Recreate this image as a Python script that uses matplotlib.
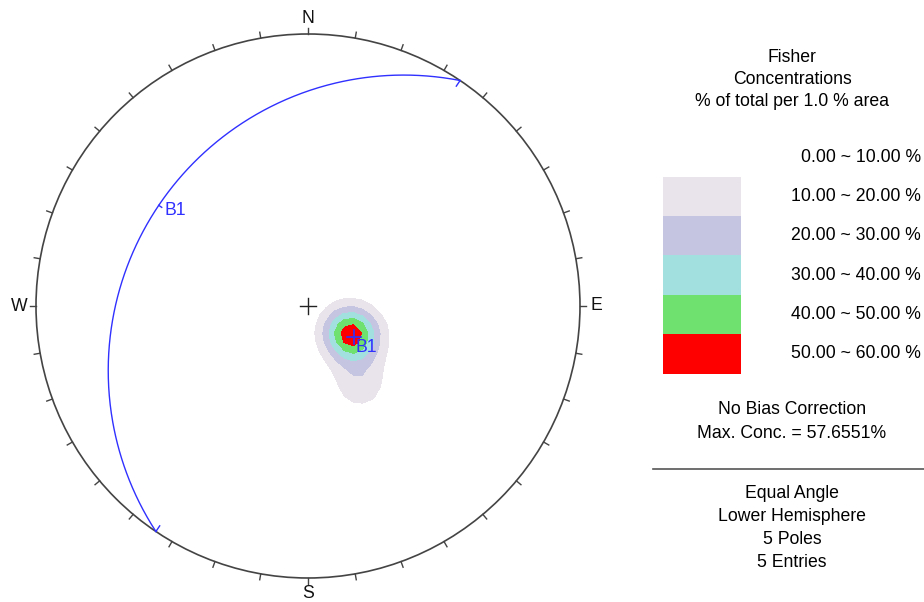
import numpy as np
import matplotlib.pyplot as plt
from matplotlib.patches import Circle, Rectangle

# pole data (trend, plunge in degrees)
pole_trend = [123.7, 121.4, 121.0, 126.9, 146.3]
pole_plunge = [69.0, 72.4, 65.8, 67.1, 52.0]
fisher_k = 57.0
max_conc = 57.6551

# plane B1 (dip direction / dip)
plane_dipdir = 304
plane_dip = 23
plane_name = 'B1'

levels = [10, 20, 30, 40, 50, 60]
level_colors = ['#E9E3EB', '#C5C5E1', '#A2DFDF', '#6EE16E', '#FF0000']
legend_labels = ['0.00 ~ 10.00 %', '10.00 ~ 20.00 %', '20.00 ~ 30.00 %',
                 '30.00 ~ 40.00 %', '40.00 ~ 50.00 %', '50.00 ~ 60.00 %']
header_lines = ['Fisher', 'Concentrations', '% of total per 1.0 % area']
info_lines = ['No Bias Correction', 'Max. Conc. = 57.6551%']
footer_lines = ['Equal Angle', 'Lower Hemisphere', '5 Poles', '5 Entries']

plt.rcParams['font.family'] = ['Liberation Sans', 'DejaVu Sans']
fs = 12.7


def to_vec(trend, plunge):
    t = np.radians(trend)
    p = np.radians(plunge)
    return np.array([np.sin(t) * np.cos(p), np.cos(t) * np.cos(p), np.sin(p)])


def project(trend, plunge):
    # equal angle, lower hemisphere
    r = np.tan(np.radians(90 - np.asarray(plunge)) / 2)
    t = np.radians(trend)
    return r * np.sin(t), r * np.cos(t)


W, H = 924, 602
fig = plt.figure(figsize=(W / 100, H / 100), dpi=100)
cx, cy, R = 308, 306, 272
half = 300
ax = fig.add_axes([(cx - half) / W, (H - cy - half) / H, 2 * half / W, 2 * half / H])
ax.set_xlim(-half / R, half / R)
ax.set_ylim(-half / R, half / R)
ax.set_aspect('equal')
ax.axis('off')

# Fisher density on a coarse grid (gives the blocky contour edges)
n = 61
gx, gy = np.meshgrid(np.linspace(-1, 1, n), np.linspace(-1, 1, n))
gr = np.hypot(gx, gy)
theta = 2 * np.arctan(gr)
az = np.arctan2(gx, gy)
v = np.stack([np.sin(theta) * np.sin(az), np.sin(theta) * np.cos(az), np.cos(theta)], axis=-1)
dens = np.zeros_like(gx)
for t, p in zip(pole_trend, pole_plunge):
    dens += np.exp(fisher_k * (np.abs(v @ to_vec(t, p)) - 1))
dens[gr > 1] = np.nan
# express as % so that the peak equals the reported max concentration
dens = dens * max_conc / np.nanmax(dens)
ax.contourf(gx, gy, dens, levels=levels, colors=level_colors, zorder=1)

# primitive circle and ticks
ax.add_patch(Circle((0, 0), 1, fill=False, ec='#444444', lw=1.2, zorder=3))
for a in range(0, 360, 10):
    s, c = np.sin(np.radians(a)), np.cos(np.radians(a))
    ax.plot([s, 1.022 * s], [c, 1.022 * c], color='#444444', lw=1.0, zorder=3)
for lab, a in zip(['N', 'E', 'S', 'W'], [0, 90, 180, 270]):
    s, c = np.sin(np.radians(a)), np.cos(np.radians(a))
    ax.text(1.06 * s, 1.058 * c, lab, ha='center', va='center', fontsize=fs, color='#111111')

# centre cross
ax.plot([-0.03, 0.03], [0, 0], color='#222222', lw=1)
ax.plot([0, 0], [-0.03, 0.03], color='#222222', lw=1)

# great circle
dd = np.radians(plane_dipdir)
dip = np.radians(plane_dip)
sv = np.array([np.sin(dd - np.pi / 2), np.cos(dd - np.pi / 2), 0])
dv = np.array([np.sin(dd) * np.cos(dip), np.cos(dd) * np.cos(dip), np.sin(dip)])
rake = np.linspace(0, np.pi, 400)
pts = np.outer(np.cos(rake), sv) + np.outer(np.sin(rake), dv)
tr = np.degrees(np.arctan2(pts[:, 0], pts[:, 1]))
pl = np.degrees(np.arcsin(np.clip(pts[:, 2], -1, 1)))
gcx, gcy = project(tr, pl)
blue = '#3030FF'
ax.plot(gcx, gcy, color=blue, lw=1.0, zorder=4)
for ex, ey in [(gcx[0], gcy[0]), (gcx[-1], gcy[-1])]:
    ax.plot([ex, 0.975 * ex], [ey, 0.975 * ey], color=blue, lw=1.0, zorder=4)
mx, my = project(plane_dipdir, plane_dip)
ax.plot([mx, 0.98 * mx], [my, 0.98 * my], color=blue, lw=1.0, zorder=4)
ax.text(mx + 0.02, my - 0.02, plane_name, color=blue, fontsize=fs, ha='left', va='center', zorder=5)

# pole of B1
px, py = project(plane_dipdir + 180, 90 - plane_dip)
ax.plot([px - 0.027, px + 0.027], [py, py], color=blue, lw=1.2, zorder=5)
ax.plot([px, px], [py - 0.027, py + 0.027], color=blue, lw=1.2, zorder=5)
ax.text(px + 0.005, py - 0.04, plane_name, color=blue, fontsize=fs, ha='left', va='center', zorder=5)

# legend panel
tx = 792 / W
for i, t in enumerate(header_lines):
    fig.text(tx, 1 - (57 + 22.5 * i) / H, t, ha='center', va='center', fontsize=fs)
row0, step = 157, 39.4
for i, t in enumerate(legend_labels):
    fig.text(921 / W, 1 - (row0 + step * i) / H, t, ha='right', va='center', fontsize=fs)
for i, col in enumerate(level_colors):
    yc = row0 + step * (i + 1)
    fig.add_artist(Rectangle((663 / W, 1 - (yc + step / 2) / H), 78 / W, step / H,
                             transform=fig.transFigure, fc=col, ec='none'))
for i, t in enumerate(info_lines):
    fig.text(tx, 1 - (410 + 23 * i) / H, t, ha='center', va='center', fontsize=fs)
fig.add_artist(plt.Line2D([653 / W, 1], [1 - 469 / H] * 2, color='#555555', lw=1.2,
                          transform=fig.transFigure))
for i, t in enumerate(footer_lines):
    fig.text(tx, 1 - (494 + 22.7 * i) / H, t, ha='center', va='center', fontsize=fs)

fig.savefig('out.png', dpi=100)
